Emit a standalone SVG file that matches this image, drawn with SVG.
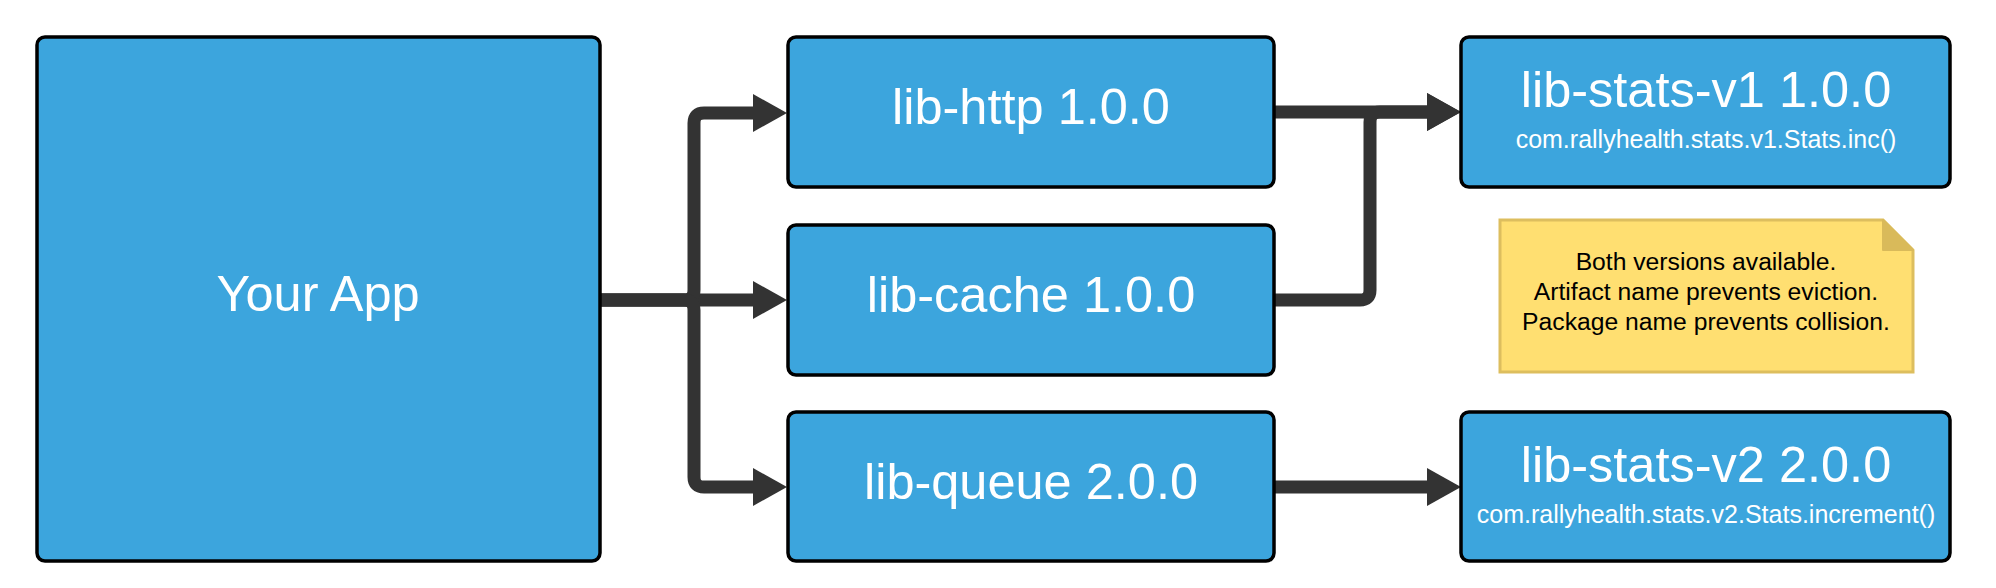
<svg xmlns="http://www.w3.org/2000/svg" width="1996" height="588" viewBox="0 0 1996 588">
<style>
.box{fill:#3CA5DD;stroke:#000;stroke-width:3.5}
.t{font-family:"Liberation Sans",Arial,sans-serif;fill:#fff;text-anchor:middle}
.big{font-size:50.5px}
.small{font-size:25px}
.note{font-family:"Liberation Sans",Arial,sans-serif;font-size:24.7px;fill:#000;text-anchor:middle}
.c{fill:none;stroke:#333;stroke-width:13;stroke-linejoin:round}
</style>
<defs>
<marker id="ah" markerUnits="userSpaceOnUse" markerWidth="40" markerHeight="40" viewBox="0 -20 36 40" refX="1" refY="0" orient="auto">
<path d="M0,-19 L34,0 L0,19 Z" fill="#333"/>
</marker>
</defs>
<rect width="1996" height="588" fill="#fff"/>
<g id="connectors">
<path class="c" d="M600,300 H754" marker-end="url(#ah)"/>
<path class="c" d="M600,300 H684 Q694,300 694,290 V123 Q694,113 704,113 H754" marker-end="url(#ah)"/>
<path class="c" d="M600,300 H684 Q694,300 694,310 V477 Q694,487 704,487 H754" marker-end="url(#ah)"/>
<path class="c" d="M1274,112 H1428" marker-end="url(#ah)"/>
<path class="c" d="M1274,300 H1360 Q1370,300 1370,290 V122 Q1370,112 1380,112 H1428" marker-end="url(#ah)"/>
<path class="c" d="M1274,487 H1428" marker-end="url(#ah)"/>
</g>
<g id="your-app">
<rect class="box" x="37" y="37" width="563" height="524" rx="8"/>
<text class="t big" x="318" y="311">Your App</text>
</g>
<g id="lib-http">
<rect class="box" x="788" y="37" width="486" height="150" rx="8"/>
<text class="t big" x="1031" y="124">lib-http 1.0.0</text>
</g>
<g id="lib-cache">
<rect class="box" x="788" y="225" width="486" height="150" rx="8"/>
<text class="t big" x="1031" y="312">lib-cache 1.0.0</text>
</g>
<g id="lib-queue">
<rect class="box" x="788" y="412" width="486" height="149" rx="8"/>
<text class="t big" x="1031" y="499">lib-queue 2.0.0</text>
</g>
<g id="lib-stats-v1">
<rect class="box" x="1461" y="37" width="489" height="150" rx="8"/>
<text class="t big" x="1706" y="107">lib-stats-v1 1.0.0</text>
<text class="t small" x="1706" y="148">com.rallyhealth.stats.v1.Stats.inc()</text>
</g>
<g id="lib-stats-v2">
<rect class="box" x="1461" y="412" width="489" height="149" rx="8"/>
<text class="t big" x="1706" y="482">lib-stats-v2 2.0.0</text>
<text class="t small" x="1706" y="523">com.rallyhealth.stats.v2.Stats.increment()</text>
</g>
<g id="note">
<path d="M1500,220 H1883 L1913,250 V372 H1500 Z" fill="#FFDF71" stroke="#DDBE5E" stroke-width="3"/>
<path d="M1883,220 L1913,250 H1883 Z" fill="#D9BA5A" stroke="#D9BA5A" stroke-width="2" stroke-linejoin="round"/>
<text class="note" x="1706" y="270">Both versions available.</text>
<text class="note" x="1706" y="300">Artifact name prevents eviction.</text>
<text class="note" x="1706" y="330">Package name prevents collision.</text>
</g>
</svg>
